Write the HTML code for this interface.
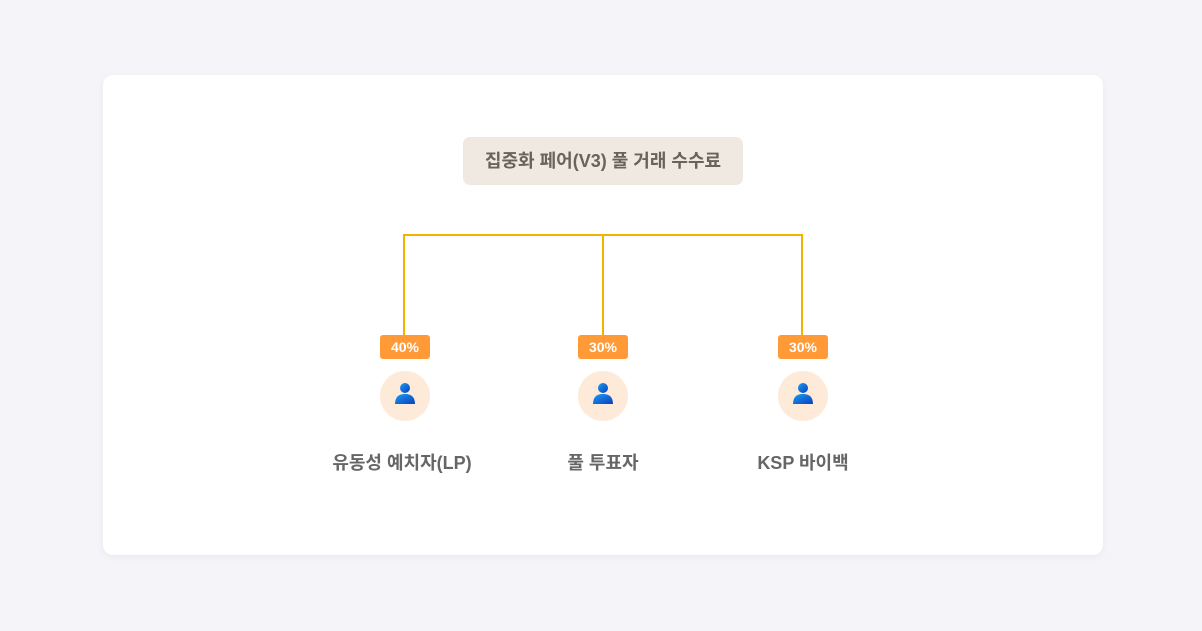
<!DOCTYPE html>
<html><head><meta charset="utf-8"><style>
body{margin:0;width:1202px;height:631px;background:#f5f5f9;position:relative;overflow:hidden;font-family:"Liberation Sans","Noto Sans CJK KR",sans-serif}
.card{position:absolute;left:103px;top:75px;width:1000px;height:480px;background:#fff;border-radius:10px;box-shadow:0 2px 8px rgba(0,0,0,0.05)}
.title{position:absolute;left:463px;top:137px;width:280px;height:48px;background:#efe9e2;border-radius:7px;color:#6b6259;font-weight:bold;font-size:18px;line-height:48px;text-align:center;letter-spacing:0px}
.l{position:absolute;background:#f2b300}
.badge{position:absolute;top:335px;width:50px;height:24px;background:#ff9a36;border-radius:3px;color:#fff;font-weight:bold;font-size:14px;line-height:24px;text-align:center}
.circ{position:absolute;top:371px;width:50px;height:50px;border-radius:50%;background:#feead8}
.lab{position:absolute;top:450px;width:200px;text-align:center;color:#666;font-weight:bold;font-size:18px;line-height:26px;letter-spacing:0px}
</style></head><body>
<div class="card"></div>
<div class="title">집중화 페어(V3) 풀 거래 수수료</div>
<div class="l" style="left:403px;top:234px;width:400px;height:2px"></div>
<div class="l" style="left:403px;top:234px;width:2px;height:101px"></div>
<div class="l" style="left:602px;top:234px;width:2px;height:101px"></div>
<div class="l" style="left:801px;top:234px;width:2px;height:101px"></div>
<div class="badge" style="left:380px">40%</div>
<div class="badge" style="left:578px">30%</div>
<div class="badge" style="left:778px">30%</div>
<svg width="0" height="0" style="position:absolute"><defs><linearGradient id="g" x1="0" y1="0" x2="1" y2="1"><stop offset="0" stop-color="#1a9cf0"/><stop offset="1" stop-color="#0a3fc0"/></linearGradient></defs></svg>
<div class="circ" style="left:380px"><svg width="50" height="50"><circle cx="25" cy="17" r="5" fill="url(#g)"/><path d="M15 33 Q15 23 25 23 Q35 23 35 33 Z" fill="url(#g)"/></svg></div>
<div class="circ" style="left:578px"><svg width="50" height="50"><circle cx="25" cy="17" r="5" fill="url(#g)"/><path d="M15 33 Q15 23 25 23 Q35 23 35 33 Z" fill="url(#g)"/></svg></div>
<div class="circ" style="left:778px"><svg width="50" height="50"><circle cx="25" cy="17" r="5" fill="url(#g)"/><path d="M15 33 Q15 23 25 23 Q35 23 35 33 Z" fill="url(#g)"/></svg></div>
<div class="lab" style="left:302px">유동성 예치자(LP)</div>
<div class="lab" style="left:503px">풀 투표자</div>
<div class="lab" style="left:703px">KSP 바이백</div>
</body></html>
